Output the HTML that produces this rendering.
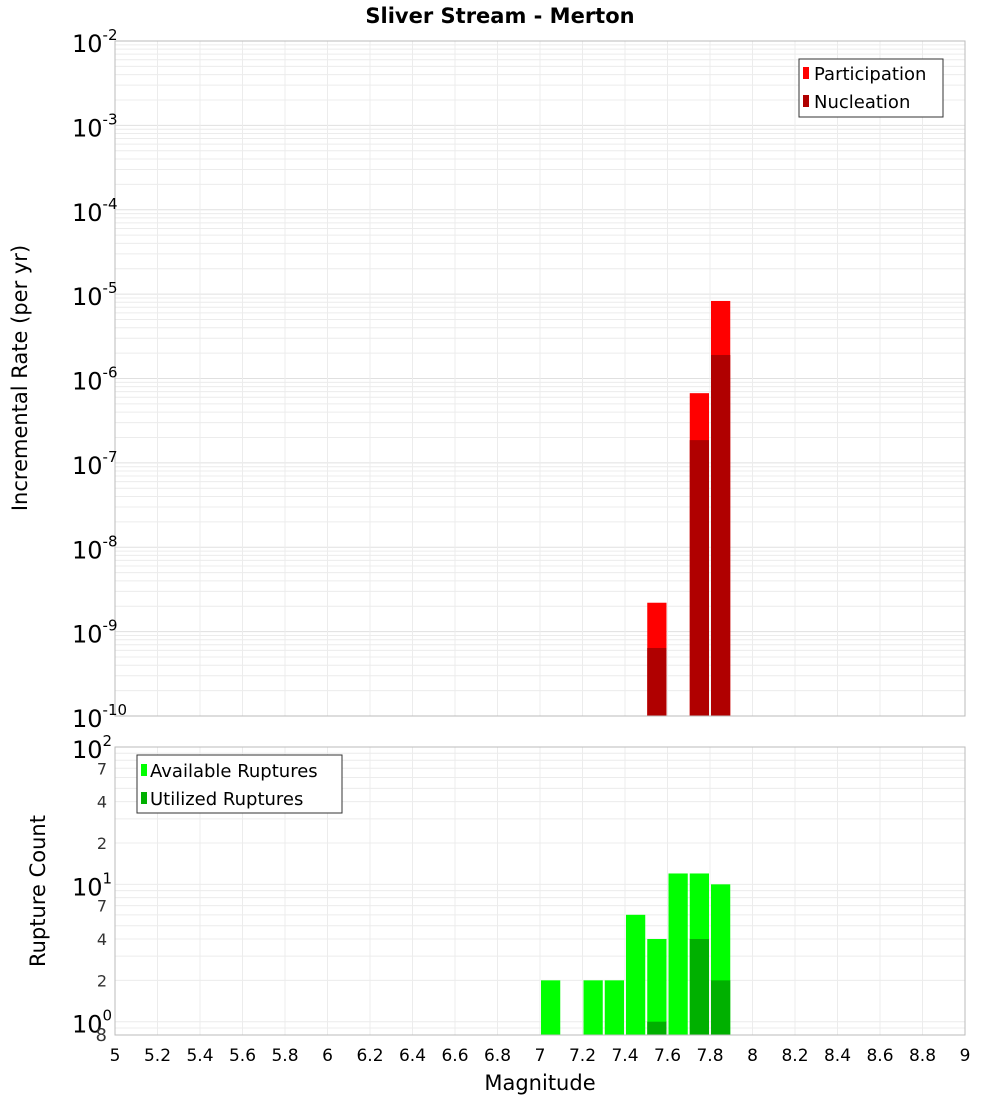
<!DOCTYPE html>
<html><head><meta charset="utf-8"><style>
body{margin:0;background:#fff;font-family:"Liberation Sans","DejaVu Sans",sans-serif}
svg text{font-family:"DejaVu Sans","Liberation Sans",sans-serif}
</style></head><body>
<svg id="chart" width="1000" height="1100" xmlns="http://www.w3.org/2000/svg">
<text x="500" y="23" text-anchor="middle" font-size="21" font-weight="bold">Sliver Stream - Merton</text>
<g id="grid"></g><g id="bars"></g><g id="axes"></g>
<text transform="translate(27,378) rotate(-90)" text-anchor="middle" font-size="21">Incremental Rate (per yr)</text>
<text transform="translate(45,891) rotate(-90)" text-anchor="middle" font-size="21">Rupture Count</text>
<text x="540" y="1090" text-anchor="middle" font-size="21">Magnitude</text>
<g>
<rect x="799" y="59" width="144" height="58" fill="#fff" stroke="#333" stroke-width="1"/>
<rect x="803" y="67" width="6" height="12" fill="#ff0000"/><text x="814" y="80" font-size="18">Participation</text>
<rect x="803" y="95" width="6" height="12" fill="#b00000"/><text x="814" y="108" font-size="18">Nucleation</text>
</g>
<g>
<rect x="137" y="755" width="205" height="58" fill="#fff" stroke="#333" stroke-width="1"/>
<rect x="141" y="764" width="6" height="12" fill="#00ff00"/><text x="150" y="777" font-size="18">Available Ruptures</text>
<rect x="141" y="792" width="6" height="12" fill="#00b000"/><text x="150" y="805" font-size="18">Utilized Ruptures</text>
</g>
</svg>
<script>
const mags=[7.05,7.15,7.25,7.35,7.45,7.55,7.65,7.75,7.85];
const participation=[0,0,0,0,0,2.2e-9,0,6.7e-7,8.3e-6];
const nucleation=[0,0,0,0,0,6.4e-10,0,1.86e-7,1.9e-6];
const available=[2,0,2,2,6,4,12,12,10];
const utilized=[0,0,0,0,0,1,0,4,2];
const xTicks=[5,5.2,5.4,5.6,5.8,6,6.2,6.4,6.6,6.8,7,7.2,7.4,7.6,7.8,8,8.2,8.4,8.6,8.8,9];
const topExps=[-2,-3,-4,-5,-6,-7,-8,-9,-10];
const NS="http://www.w3.org/2000/svg";
const X0=115,X1=965,T0=41,T1=716,B0=747,B1=1035;
const xs=m=>X0+(m-5)/4*(X1-X0);
const yt=v=>T0+(-2-Math.log10(v))*(T1-T0)/8;
const yb=v=>B0+(2-Math.log10(v))*(B1-B0)/(2-Math.log10(0.8));
function mk(p,tag,at){const e=document.createElementNS(NS,tag);for(const k in at)e.setAttribute(k,at[k]);document.getElementById(p).appendChild(e);return e;}
// grid
for(let d=-10;d<-2;d++)for(let k=1;k<10;k++){const y=yt(k*Math.pow(10,d));const l=mk('grid','line',{x1:X0,x2:X1,y1:y,y2:y,stroke:k==1?'#e0e0e0':'#ececec'});

}
for(let d=-1;d<2;d++)for(let k=1;k<10;k++){const v=k*Math.pow(10,d);if(v<0.8)continue;const y=yb(v);const l=mk('grid','line',{x1:X0,x2:X1,y1:y,y2:y,stroke:'#ececec'});

}
xTicks.forEach(t=>{const x=xs(t);[[T0,T1],[B0,B1]].forEach(r=>{const l=mk('grid','line',{x1:x,x2:x,y1:r[0],y2:r[1],stroke:'#ececec'});

});
const tx=mk('axes','text',{x:x,y:1061,'text-anchor':'middle','font-size':17});tx.textContent=String(t);

});
// bars
const bw=(xs(5.1)-xs(5))-2;
mags.forEach((m,i)=>{const x=xs(m-0.05)+1;
if(participation[i]>0){const r=mk('bars','rect',{x:x,y:yt(participation[i]),width:bw,height:T1-yt(participation[i]),fill:'#ff0000'});

}
if(nucleation[i]>0){const r=mk('bars','rect',{x:x,y:yt(nucleation[i]),width:bw,height:T1-yt(nucleation[i]),fill:'#b00000'});

}
if(available[i]>0){const r=mk('bars','rect',{x:x,y:yb(available[i]),width:bw,height:B1-yb(available[i]),fill:'#00ff00'});

}
if(utilized[i]>0){const r=mk('bars','rect',{x:x,y:yb(utilized[i]),width:bw,height:B1-yb(utilized[i]),fill:'#00b000'});

}
});
// frames
[[T0,T1],[B0,B1]].forEach(r=>{const f=mk('axes','rect',{x:X0,y:r[0],width:X1-X0,height:r[1]-r[0],fill:'none',stroke:'#bbb'});

});
// top y labels
topExps.forEach(e=>{const y=yt(Math.pow(10,e));const t=mk('axes','text',{x:72,y:y+11,'font-size':24});
t.innerHTML='10<tspan dy="-12" font-size="15">'+e+'</tspan>';

});
// bottom y labels
[[100,'2'],[10,'1'],[1,'0']].forEach(p=>{const y=yb(p[0]);const t=mk('axes','text',{x:72,y:y+11,'font-size':24});
t.innerHTML='10<tspan dy="-12" font-size="15">'+p[1]+'</tspan>';

});
[70,40,20,7,4,2,0.8].forEach(v=>{const y=yb(v);const t=mk('axes','text',{x:107,y:y+6,'text-anchor':'end','font-size':v==0.8?18:16,fill:'#333'});
t.textContent=v==0.8?'8':String(v>=10?v/10:v);

});
</script>
</body></html>
